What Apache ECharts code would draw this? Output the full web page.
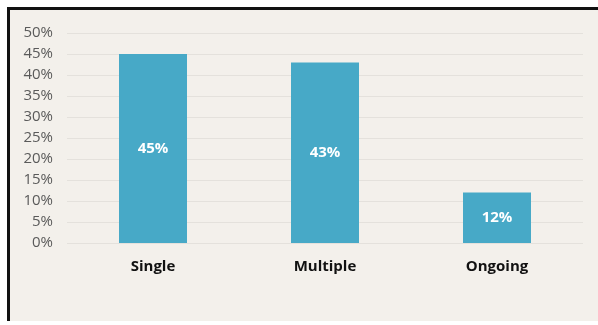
<!DOCTYPE html>
<html>
<head>
<meta charset="utf-8">
<script src="https://cdn.jsdelivr.net/npm/echarts@6/dist/echarts.min.js"></script>
<style>
  html, body { margin: 0; padding: 0; background: #ffffff; }
  #frame {
    position: absolute; left: 7px; top: 7px; width: 591px; height: 314px;
    border-left: 3px solid #111; border-top: 3px solid #111;
    box-sizing: border-box;
    background: #f3f0eb;
  }
  #chart { position: absolute; left: 0; top: 0; width: 598px; height: 325px; }
</style>
</head>
<body>
<div id="frame"></div>
<div id="chart"></div>
<script>
// Share of cases by type
const categories = ['Single', 'Multiple', 'Ongoing'];
const shares = [45, 43, 12];
const tickMin = 0;
const tickMax = 50;
const tickStep = 5;

const chart = echarts.init(document.getElementById('chart'), null, { renderer: 'canvas' });
chart.setOption({
  backgroundColor: 'transparent',
  animation: false,
  grid: { left: 67, right: 15, top: 33, bottom: 82 },
  xAxis: {
    type: 'category',
    data: categories,
    axisLine: { show: false },
    axisTick: { show: false },
    axisLabel: {
      color: '#111', fontWeight: 'bold', fontSize: 15,
      fontFamily: 'Open Sans', margin: 16
    }
  },
  yAxis: {
    type: 'value',
    min: tickMin, max: tickMax, interval: tickStep,
    axisLine: { show: false },
    axisTick: { show: false },
    splitLine: { lineStyle: { color: '#e4e1dc', width: 1 } },
    axisLabel: {
      color: '#5a5a5a', fontSize: 15, fontFamily: 'Open Sans',
      margin: 14, formatter: v => v + '%'
    }
  },
  series: [{
    type: 'bar',
    data: shares,
    barWidth: 68,
    itemStyle: { color: '#47a9c7' },
    label: {
      show: true, position: 'inside', color: '#fff',
      fontWeight: 'bold', fontSize: 15, fontFamily: 'Open Sans',
      formatter: p => p.value + '%'
    }
  }]
});
</script>
</body>
</html>
